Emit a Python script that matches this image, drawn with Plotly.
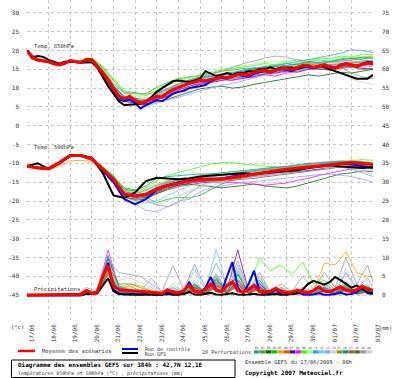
import plotly.graph_objects as go

# ---------------- time axes ----------------
DATES = ["17/06", "18/06", "19/06", "20/06", "21/06", "22/06", "23/06", "24/06", "25/06",
         "26/06", "27/06", "28/06", "29/06", "30/06", "01/07", "02/07", "03/07"]
HOURS_6 = list(range(0, 385, 6))      # 65 steps
HOURS_12 = list(range(0, 385, 12))    # 33 steps
HOURS_P = [0] + list(range(6, 384, 12)) + [384]   # 34 steps (precip perturbations)

LEFT_TICKS = [30, 25, 20, 15, 10, 5, 0, -5, -10, -15, -20, -25, -30, -35, -40, -45]
RIGHT_TICKS = [75, 70, 65, 60, 55, 50, 45, 40, 35, 30, 25, 20, 15, 10, 5, 0]
PRECIP_BASE = -45  # 0 mm drawn at -45 on the left scale

# ---------------- 850 hPa (6h) ----------------
T850_MEAN = [20.0, 18.0, 17.5, 17.3, 17.0, 16.5, 16.2, 16.6, 17.3, 17.0, 16.9, 17.6,
             17.5, 15.8, 14.0, 12.2, 10.0, 7.8, 7.2, 7.8, 6.8, 6.0, 6.5, 7.2,
             7.8, 7.6, 8.8, 9.6, 10.2, 10.6, 11.3, 11.6, 12.1, 11.9, 12.3, 12.8,
             13.0, 12.7, 13.2, 13.6, 13.7, 13.5, 14.2, 14.6, 14.7, 14.3, 14.8, 15.2,
             15.2, 14.9, 15.5, 16.0, 16.0, 15.5, 15.8, 16.2, 15.6, 15.3, 16.0, 16.4,
             16.2, 15.8, 16.3, 16.7, 16.5]
T850_CTRL = [20.0, 18.0, 17.4, 17.2, 17.0, 16.4, 16.2, 16.6, 17.2, 17.0, 16.8, 17.5,
             17.6, 16.0, 14.2, 12.0, 9.5, 7.0, 6.5, 7.0, 6.0, 4.6, 5.5, 6.2,
             6.8, 6.5, 7.5, 8.5, 9.0, 9.3, 10.0, 10.2, 10.5, 10.8, 11.8, 12.5,
             12.8, 12.5, 13.0, 13.5, 13.2, 13.0, 13.8, 14.2, 14.5, 14.2, 14.6, 15.0,
             14.8, 14.5, 15.2, 15.8, 15.5, 15.2, 15.8, 16.0, 15.8, 15.5, 16.2, 16.6,
             16.2, 15.9, 16.5, 17.0, 16.8]
T850_GFS = [20.0, 18.2, 18.5, 18.3, 17.5, 17.0, 16.5, 17.0, 17.0, 16.8, 16.8, 17.0,
            16.8, 15.5, 13.0, 10.5, 8.5, 6.5, 5.5, 5.6, 5.6, 5.8, 6.2, 7.5,
            9.0, 10.0, 11.0, 11.8, 12.0, 11.8, 11.6, 12.0, 12.5, 14.5, 13.8, 13.2,
            13.5, 14.0, 13.5, 14.0, 14.0, 14.5, 14.5, 15.0, 15.0, 15.5, 15.0, 15.5,
            15.5, 15.5, 15.0, 15.5, 16.0, 15.5, 16.0, 15.5, 15.0, 14.5, 14.0, 13.5,
            13.0, 12.5, 12.5, 12.5, 13.5]

# perturbations 850 hPa (12h)
T850_P01 = [20, 17.8, 17.2, 16.4, 17.5, 17.0, 17.8, 14.8, 10.8, 7.8, 7.2, 6.8, 8.2, 9.5, 11.0, 12.2, 13.0, 13.2, 13.8, 14.0, 14.5, 15.0, 15.6, 15.5, 16.0, 16.2, 16.8, 16.5, 16.8, 17.2, 17.6, 17.8, 18.0]
T850_P02 = [20, 17.4, 16.9, 16.0, 17.2, 16.8, 17.6, 14.2, 9.8, 7.0, 6.5, 6.0, 7.2, 8.5, 10.0, 11.5, 12.3, 12.0, 12.8, 13.5, 14.0, 14.2, 14.5, 15.2, 15.0, 15.4, 16.2, 15.6, 15.2, 16.0, 16.5, 16.0, 16.2]
T850_P03 = [20, 17.3, 16.8, 15.9, 17.0, 16.5, 17.0, 13.2, 8.8, 6.5, 6.0, 5.5, 6.5, 7.0, 8.0, 9.0, 9.8, 10.2, 10.5, 10.0, 10.3, 11.0, 11.5, 12.0, 12.5, 13.0, 13.5, 13.2, 13.8, 14.2, 14.0, 14.5, 15.0]
T850_P04 = [20, 17.6, 17.1, 16.3, 17.4, 17.1, 17.9, 15.5, 12.0, 8.8, 8.5, 8.5, 10.2, 11.5, 12.5, 13.0, 13.2, 13.8, 14.5, 14.8, 15.2, 15.0, 15.8, 16.0, 16.5, 16.2, 17.0, 17.5, 17.0, 17.8, 18.0, 17.5, 17.2]
T850_P05 = [20, 17.5, 17.0, 16.2, 17.3, 17.0, 17.5, 14.0, 10.2, 7.5, 7.0, 6.8, 7.5, 8.8, 10.5, 11.2, 12.0, 12.5, 13.2, 13.0, 13.5, 14.5, 15.0, 14.5, 15.5, 16.0, 16.5, 16.2, 16.8, 17.0, 17.5, 18.2, 18.5]
T850_P06 = [20, 17.6, 17.0, 16.1, 17.2, 16.8, 17.4, 13.8, 9.5, 7.0, 6.8, 6.2, 7.8, 8.5, 9.8, 11.0, 11.8, 12.2, 12.5, 13.0, 13.8, 14.0, 14.2, 14.8, 15.2, 15.0, 15.8, 15.5, 15.0, 15.5, 16.0, 16.5, 16.0]
T850_P07 = [20, 17.2, 16.8, 16.0, 17.1, 16.6, 17.2, 13.5, 9.0, 6.5, 6.2, 5.8, 7.0, 7.8, 9.0, 10.0, 11.0, 11.5, 12.0, 12.2, 12.5, 13.0, 13.8, 14.0, 14.5, 14.2, 15.0, 15.2, 14.8, 15.5, 15.8, 15.2, 15.0]
T850_P08 = [20, 17.5, 17.0, 16.3, 17.3, 16.9, 17.6, 14.5, 10.5, 7.2, 6.5, 6.0, 7.0, 8.0, 9.5, 10.5, 11.2, 11.8, 12.5, 12.0, 12.8, 13.0, 13.5, 13.2, 14.0, 14.5, 15.0, 15.5, 16.0, 16.5, 17.0, 16.8, 17.0]
T850_P09 = [20, 17.7, 17.2, 16.5, 17.6, 17.2, 18.0, 15.8, 12.5, 9.2, 8.8, 8.0, 9.5, 10.8, 12.0, 12.8, 13.5, 14.0, 14.8, 15.2, 15.5, 16.0, 16.5, 16.2, 17.0, 17.5, 17.2, 18.0, 17.8, 18.5, 18.2, 19.0, 18.8]
T850_P10 = [20, 17.6, 17.1, 16.4, 17.5, 17.1, 17.8, 15.2, 11.5, 8.5, 8.0, 7.5, 9.8, 11.2, 12.8, 12.5, 13.8, 14.2, 15.0, 15.5, 16.0, 16.5, 16.8, 17.2, 17.0, 16.8, 17.5, 17.2, 17.8, 18.0, 18.5, 18.2, 18.0]
T850_P11 = [20, 17.5, 17.0, 16.2, 17.4, 17.0, 17.7, 14.6, 10.5, 7.5, 7.0, 6.5, 7.8, 9.0, 10.5, 11.5, 12.5, 13.0, 13.5, 14.0, 14.8, 15.5, 15.2, 16.0, 16.5, 17.0, 17.5, 18.0, 18.5, 19.2, 20.2, 20.0, 19.5]
T850_P12 = [20, 17.4, 16.9, 16.1, 17.2, 16.8, 17.5, 14.0, 9.8, 7.0, 6.6, 6.4, 7.5, 8.8, 10.2, 11.0, 11.5, 12.0, 12.8, 13.2, 13.5, 14.0, 14.8, 15.0, 15.5, 16.0, 16.2, 16.8, 17.0, 17.5, 17.0, 17.2, 17.5]
T850_P13 = [20, 17.3, 16.8, 16.0, 17.1, 16.7, 17.3, 13.6, 9.2, 6.8, 6.0, 5.2, 6.0, 6.8, 7.5, 8.2, 9.2, 9.8, 10.8, 11.2, 12.0, 12.8, 13.5, 13.8, 14.2, 14.8, 15.2, 15.0, 15.5, 15.8, 16.0, 15.5, 15.8]
T850_P14 = [20, 17.4, 16.9, 16.1, 17.2, 16.8, 17.4, 13.9, 9.5, 7.0, 6.4, 6.0, 6.8, 7.5, 8.5, 9.5, 10.5, 11.0, 11.8, 12.5, 13.2, 13.5, 14.0, 14.5, 15.0, 15.2, 15.8, 16.0, 16.2, 16.8, 17.0, 16.5, 16.0]
T850_P15 = [20, 17.5, 17.0, 16.2, 17.3, 16.9, 17.6, 14.2, 10.0, 7.3, 6.9, 6.6, 8.0, 9.0, 10.4, 11.5, 12.2, 12.5, 13.0, 13.4, 13.8, 14.5, 15.0, 15.0, 15.6, 15.8, 16.5, 16.0, 16.2, 16.5, 16.8, 17.0, 17.2]
T850_P16 = [20, 17.6, 17.1, 16.3, 17.4, 17.0, 17.7, 14.5, 10.6, 7.6, 7.2, 7.0, 8.5, 9.8, 11.2, 12.0, 12.8, 13.0, 13.8, 14.2, 14.5, 15.2, 15.5, 15.8, 16.0, 16.5, 17.0, 16.8, 17.2, 17.5, 17.8, 18.2, 18.0]
T850_P17 = [20, 17.4, 16.9, 16.2, 17.3, 16.9, 17.5, 14.1, 9.9, 7.1, 6.8, 6.5, 7.6, 8.7, 10.0, 11.2, 12.0, 12.4, 13.0, 13.2, 13.6, 14.2, 14.6, 14.6, 15.0, 15.4, 15.8, 15.6, 15.4, 15.8, 16.0, 16.2, 16.4]
T850_P18 = [20, 17.3, 16.8, 16.0, 17.1, 16.7, 17.3, 13.6, 9.4, 6.9, 6.5, 6.2, 7.2, 8.2, 9.5, 10.5, 11.4, 11.8, 12.2, 12.6, 13.0, 13.5, 14.0, 14.2, 14.6, 15.0, 15.4, 15.0, 14.8, 15.2, 15.5, 15.0, 15.2]
T850_P19 = [20, 17.6, 17.1, 16.4, 17.5, 17.1, 17.8, 15.0, 11.2, 8.6, 8.8, 8.4, 9.0, 9.8, 11.0, 12.0, 12.8, 13.5, 14.5, 15.5, 16.5, 17.2, 18.0, 18.5, 18.2, 17.5, 17.0, 16.5, 16.0, 15.5, 14.0, 13.0, 12.5]
T850_P20 = [20, 17.5, 17.0, 16.2, 17.3, 16.8, 17.4, 14.0, 10.0, 7.4, 7.0, 6.8, 8.0, 9.0, 10.5, 11.5, 12.0, 12.8, 13.2, 13.8, 14.0, 14.5, 15.0, 15.5, 15.8, 16.0, 16.2, 15.5, 15.0, 14.0, 12.5, 11.5, 11.0]

# ---------------- 500 hPa (12h) ----------------
T500_MEAN = [-10.7, -11.2, -11.4, -9.8, -7.9, -7.9, -8.8, -11.5, -14.2, -18.2, -18.6, -18.2, -16.8, -15.8, -15.1, -14.6, -14.2, -14.3, -14.2, -13.8, -13.3, -13.0, -12.5, -12.0, -11.6, -11.3, -11.1, -10.7, -10.3, -10.0, -9.8, -10.0, -10.3]
T500_CTRL = [-10.7, -11.2, -11.4, -9.8, -7.8, -7.8, -8.8, -11.8, -15.0, -19.5, -20.8, -19.5, -17.0, -15.8, -15.0, -14.5, -14.0, -14.2, -14.0, -13.5, -13.0, -12.8, -12.5, -12.0, -11.8, -11.5, -11.0, -10.6, -10.2, -10.0, -10.2, -10.8, -11.2]
T500_GFS = [-10.7, -10.0, -11.5, -10.0, -8.0, -8.0, -8.5, -12.5, -18.5, -19.2, -17.7, -14.7, -13.8, -14.0, -14.2, -14.0, -13.5, -13.2, -13.0, -12.8, -12.6, -12.8, -12.5, -12.2, -12.0, -11.8, -11.2, -10.8, -10.5, -10.8, -11.0, -11.2, -11.0]

T500_P01 = [-10.7, -11.0, -11.2, -9.6, -7.6, -7.8, -8.6, -11.2, -13.8, -17.5, -18.0, -17.2, -15.8, -14.8, -14.2, -13.8, -13.5, -13.6, -13.2, -12.8, -12.5, -12.2, -11.8, -11.5, -11.2, -11.0, -10.8, -10.5, -10.0, -9.8, -9.5, -9.8, -10.0]
T500_P02 = [-10.8, -11.2, -11.5, -10.0, -8.0, -8.0, -9.0, -11.8, -14.8, -18.8, -19.5, -18.5, -16.5, -15.2, -14.5, -14.2, -14.0, -14.2, -14.5, -14.0, -13.5, -13.2, -13.0, -12.5, -12.0, -11.5, -11.2, -11.0, -10.8, -10.5, -10.2, -10.5, -10.8]
T500_P03 = [-10.7, -11.3, -11.6, -10.2, -8.2, -8.1, -9.2, -12.2, -15.2, -19.0, -19.8, -19.5, -18.0, -16.8, -15.8, -15.5, -15.8, -16.0, -16.5, -16.2, -15.8, -15.5, -16.0, -16.2, -16.5, -16.0, -15.2, -14.5, -13.5, -12.8, -12.5, -12.0, -12.2]
T500_P04 = [-10.6, -11.1, -11.3, -9.7, -7.8, -7.8, -8.7, -11.0, -13.5, -16.5, -17.0, -19.0, -20.5, -19.5, -19.0, -19.2, -18.5, -17.0, -15.5, -14.5, -13.8, -13.0, -12.5, -12.2, -11.8, -11.5, -11.0, -10.8, -10.5, -10.0, -9.8, -10.0, -10.2]
T500_P05 = [-10.8, -11.4, -11.8, -10.8, -9.3, -9.2, -9.5, -11.5, -13.8, -17.0, -17.8, -17.0, -15.5, -14.5, -14.0, -13.8, -13.5, -13.2, -13.0, -12.8, -12.2, -12.0, -11.8, -11.2, -11.0, -10.8, -10.5, -10.2, -10.0, -9.8, -9.6, -9.5, -9.8]
T500_P06 = [-10.7, -11.2, -11.4, -9.9, -7.9, -8.0, -8.9, -11.6, -14.5, -18.5, -19.0, -18.8, -17.5, -16.2, -15.4, -14.8, -14.5, -14.4, -14.0, -13.5, -13.2, -13.0, -12.5, -12.0, -11.8, -11.5, -11.0, -10.8, -10.5, -10.2, -10.0, -10.2, -10.5]
T500_P07 = [-10.7, -11.3, -11.5, -10.0, -8.1, -8.0, -9.0, -11.8, -14.6, -18.6, -19.2, -19.0, -17.8, -16.5, -15.8, -15.2, -14.8, -14.8, -14.5, -14.2, -13.8, -13.5, -13.2, -12.8, -12.5, -12.2, -11.8, -11.5, -11.0, -10.8, -10.6, -10.8, -11.0]
T500_P08 = [-10.7, -11.2, -11.4, -9.8, -7.9, -7.9, -8.8, -11.4, -14.0, -17.8, -18.5, -18.2, -17.0, -16.0, -15.5, -15.0, -14.8, -15.0, -15.2, -15.0, -15.2, -15.5, -15.8, -15.5, -15.2, -14.5, -14.0, -13.2, -12.5, -12.0, -11.5, -11.2, -11.0]
T500_P09 = [-10.6, -11.0, -11.2, -9.5, -7.6, -7.6, -8.5, -10.8, -13.2, -16.8, -17.5, -16.5, -14.5, -13.2, -12.5, -11.8, -11.0, -10.2, -9.8, -9.8, -10.2, -10.5, -10.8, -11.0, -11.2, -10.8, -10.5, -10.2, -9.8, -9.5, -9.2, -9.0, -9.2]
T500_P10 = [-10.6, -11.1, -11.3, -9.6, -7.7, -7.7, -8.6, -11.0, -13.6, -17.2, -17.8, -17.0, -15.5, -14.8, -14.2, -13.5, -13.0, -12.8, -12.5, -12.2, -12.0, -11.8, -11.5, -11.2, -11.0, -10.5, -10.2, -10.0, -9.5, -9.2, -9.0, -9.4, -9.8]
T500_P11 = [-10.7, -11.2, -11.4, -9.7, -7.8, -7.8, -8.8, -11.4, -14.2, -18.0, -18.6, -18.0, -16.2, -15.0, -14.4, -14.0, -13.6, -13.4, -13.0, -12.6, -12.2, -11.8, -11.5, -11.2, -10.8, -10.5, -10.2, -10.0, -9.8, -9.5, -9.4, -9.6, -10.0]
T500_P12 = [-10.8, -11.3, -11.5, -9.9, -8.0, -8.0, -9.0, -11.7, -14.6, -18.8, -19.8, -20.5, -20.0, -18.5, -17.2, -16.0, -15.2, -14.8, -14.5, -14.0, -13.6, -13.2, -12.8, -12.4, -12.0, -11.6, -11.2, -11.0, -10.6, -10.2, -10.0, -10.4, -10.8]
T500_P13 = [-10.8, -11.4, -11.6, -10.1, -8.1, -8.1, -9.1, -12.0, -15.0, -19.5, -20.8, -22.5, -22.8, -21.5, -20.0, -19.5, -17.5, -16.5, -16.0, -15.5, -15.0, -14.8, -14.5, -14.2, -13.8, -13.5, -13.2, -13.0, -12.8, -13.2, -13.5, -14.2, -15.0]
T500_P14 = [-10.7, -11.2, -11.4, -9.8, -7.9, -7.9, -8.9, -11.6, -14.4, -18.4, -19.5, -20.5, -21.0, -20.0, -18.5, -17.2, -16.5, -15.8, -15.0, -14.5, -14.0, -13.6, -13.2, -12.8, -12.4, -12.0, -11.6, -11.2, -11.0, -10.8, -11.0, -11.5, -12.0]
T500_P15 = [-10.7, -11.2, -11.4, -9.8, -7.9, -7.9, -8.8, -11.5, -14.2, -18.2, -18.8, -18.5, -17.2, -16.0, -15.2, -14.6, -14.2, -14.0, -13.8, -13.5, -13.0, -12.6, -12.2, -11.8, -11.5, -11.2, -10.9, -10.6, -10.3, -10.0, -9.8, -10.0, -10.2]
T500_P16 = [-10.6, -11.1, -11.3, -9.6, -7.7, -7.7, -8.6, -11.0, -13.5, -17.0, -17.2, -16.0, -14.0, -13.5, -13.2, -13.0, -12.8, -12.8, -12.5, -12.0, -11.8, -11.5, -11.2, -11.0, -10.8, -10.4, -10.0, -9.8, -9.6, -9.4, -9.5, -9.8, -10.0]
T500_P17 = [-10.7, -11.2, -11.4, -9.8, -7.9, -7.9, -8.8, -11.5, -14.3, -18.3, -18.9, -18.6, -17.4, -16.2, -15.5, -15.0, -14.6, -14.4, -14.2, -13.8, -13.4, -13.0, -12.6, -12.2, -11.8, -11.5, -11.2, -10.8, -10.5, -10.2, -10.0, -10.2, -10.4]
T500_P18 = [-10.8, -11.3, -11.5, -10.0, -8.0, -8.0, -9.0, -11.8, -14.8, -19.0, -19.5, -19.2, -18.0, -17.0, -16.2, -15.6, -15.2, -15.0, -14.8, -14.5, -14.2, -14.0, -13.6, -13.2, -12.8, -12.5, -12.0, -11.6, -11.2, -11.0, -10.8, -11.0, -11.2]
T500_P19 = [-10.7, -11.2, -11.4, -9.8, -7.9, -7.9, -8.8, -11.2, -14.0, -17.5, -18.2, -19.5, -21.0, -21.5, -20.5, -18.0, -16.0, -14.8, -14.0, -13.2, -12.5, -12.0, -11.6, -11.5, -11.0, -10.5, -10.2, -10.0, -10.5, -11.0, -11.5, -12.5, -13.5]
T500_P20 = [-10.7, -11.2, -11.4, -9.8, -7.9, -7.9, -8.8, -11.3, -14.0, -17.8, -18.5, -19.8, -20.5, -19.8, -18.8, -17.5, -16.2, -15.2, -14.8, -14.2, -13.5, -12.8, -12.2, -11.8, -11.4, -11.0, -10.6, -10.4, -10.2, -10.5, -11.2, -12.0, -12.8]

# ---------------- precipitation mm (6h) ----------------
PR_MEAN = [0, 0, 0, 0, 0, 0, 0, 0, 0, 0, 0.2, 1.2,
           0.4, 0.8, 5.0, 7.9, 2.4, 1.5, 1.3, 1.2, 1.1, 1.0, 0.9, 0.7,
           0.5, 0.5, 1.4, 0.8, 0.6, 1.2, 2.6, 1.0, 0.7, 1.5, 3.0, 1.3,
           0.9, 2.5, 3.5, 1.2, 0.8, 1.5, 2.6, 1.0, 0.8, 1.0, 1.8, 1.0,
           0.7, 0.8, 1.3, 0.8, 0.7, 1.2, 2.2, 1.1, 0.9, 1.6, 2.2, 1.3,
           1.0, 1.4, 2.4, 1.6, 1.3]
PR_CTRL = [0, 0, 0, 0, 0, 0, 0, 0, 0, 0, 0, 0.8,
           0.3, 1.0, 5.0, 8.5, 1.5, 0.5, 0.3, 0.2, 0.2, 0.1, 0.3, 0.2,
           0.1, 0.2, 0.8, 0.3, 0.2, 1.0, 3.5, 1.0, 0.5, 2.0, 4.8, 1.5,
           0.8, 5.0, 8.8, 2.0, 0.5, 3.0, 6.5, 1.0, 0.2, 0.5, 1.5, 0.3,
           0.2, 0.3, 0.8, 0.2, 0.1, 0.2, 0.5, 0.1, 0.1, 0.3, 0.6, 0.2,
           0.3, 0.8, 1.8, 0.5, 0.3]
PR_GFS = [0, 0, 0, 0, 0, 0, 0, 0, 0, 0, 0, 0.3,
          0.3, 0.5, 2.5, 4.5, 1.0, 0.3, 0.2, 0.2, 0.1, 0.1, 0.2, 0.1,
          0.1, 0.1, 0.3, 0.1, 0.1, 0.3, 0.8, 0.2, 0.1, 0.3, 0.6, 0.2,
          0.1, 0.3, 0.5, 0.2, 0.1, 0.2, 0.4, 0.1, 0.1, 0.2, 0.3, 0.1,
          0.2, 0.3, 0.5, 1.5, 3.0, 3.8, 3.2, 2.8, 3.5, 4.8, 4.0, 3.0,
          2.0, 2.6, 1.5, 0.8, 0.5]

# perturbations precip (06h / 18h steps)
PR_P01 = [0, 0, 0, 0, 0, 0, 1.0, 0.5, 8.0, 2.0, 1.0, 0.5, 0.8, 0.3, 1.5, 0.5, 2.5, 0.8, 3.5, 1.0, 4.0, 0.8, 3.0, 0.5, 1.5, 0.3, 1.0, 0.5, 2.0, 0.8, 2.5, 0.5, 2.0, 1.0]
PR_P02 = [0, 0, 0, 0, 0, 0, 0.5, 0.8, 9.0, 1.5, 0.5, 0.3, 0.5, 0.2, 1.0, 0.3, 2.0, 1.0, 4.5, 1.2, 5.5, 0.5, 2.0, 0.3, 1.0, 0.2, 0.8, 0.3, 1.5, 0.5, 2.0, 0.8, 1.5, 0.8]
PR_P03 = [0, 0, 0, 0, 0, 0, 0.8, 0.3, 6.5, 1.0, 0.5, 0.2, 0.3, 0.1, 0.5, 0.2, 1.5, 0.5, 2.5, 0.8, 3.0, 0.5, 2.2, 0.3, 0.8, 0.2, 0.5, 0.3, 1.0, 0.4, 1.5, 0.3, 1.0, 0.5]
PR_P04 = [0, 0, 0, 0, 0, 0, 1.5, 0.5, 10.0, 2.5, 1.2, 0.8, 0.5, 0.3, 1.0, 0.5, 3.0, 1.0, 5.0, 1.5, 6.0, 1.0, 4.0, 0.5, 2.0, 0.5, 1.5, 0.5, 3.0, 1.0, 3.5, 0.8, 2.5, 1.2]
PR_P05 = [0, 0, 0, 0, 0, 0, 0.6, 0.4, 8.5, 2.0, 3.0, 2.5, 1.0, 0.3, 1.2, 0.4, 2.0, 0.6, 3.0, 0.8, 2.5, 0.5, 1.5, 0.3, 1.0, 0.5, 2.0, 1.0, 8.5, 8.0, 11.5, 6.0, 5.0, 4.8]
PR_P06 = [0, 0, 0, 0, 0, 0, 0.4, 0.6, 7.0, 1.5, 2.5, 1.0, 0.5, 0.2, 0.8, 0.3, 1.8, 0.5, 2.8, 0.6, 3.5, 0.4, 2.0, 0.2, 0.8, 0.2, 0.6, 0.3, 1.2, 0.5, 1.8, 0.4, 1.2, 0.6]
PR_P07 = [0, 0, 0, 0, 0, 0, 0.8, 0.5, 9.5, 1.8, 0.8, 0.4, 0.6, 0.2, 1.0, 0.3, 2.2, 0.6, 4.0, 1.5, 12.0, 1.0, 3.0, 0.3, 1.2, 0.3, 0.8, 0.3, 1.5, 0.5, 2.0, 0.6, 1.5, 0.8]
PR_P08 = [0, 0, 0, 0, 0, 0, 1.2, 0.8, 12.0, 2.0, 1.0, 0.5, 0.5, 0.2, 0.8, 0.3, 2.0, 0.6, 3.2, 0.8, 3.8, 0.6, 2.5, 0.3, 1.0, 0.3, 0.8, 0.4, 1.8, 0.6, 2.8, 0.5, 1.8, 1.0]
PR_P09 = [0, 0, 0, 0, 0, 0, 1.0, 0.6, 9.0, 2.2, 1.0, 0.5, 0.8, 0.3, 1.2, 0.4, 2.5, 0.8, 4.0, 1.2, 5.0, 2.0, 10.0, 6.5, 8.0, 5.5, 8.8, 3.0, 4.0, 1.5, 2.5, 0.8, 2.0, 1.2]
PR_P10 = [0, 0, 0, 0, 0, 0, 0.7, 0.5, 7.5, 3.0, 2.0, 2.5, 1.5, 0.5, 2.5, 0.8, 3.5, 1.0, 5.0, 1.5, 6.0, 1.2, 5.0, 0.8, 2.5, 0.6, 1.5, 0.5, 2.0, 0.7, 2.5, 0.6, 2.0, 1.0]
PR_P11 = [0, 0, 0, 0, 0, 0, 0.9, 0.6, 8.8, 1.8, 0.8, 0.3, 0.5, 0.2, 1.0, 0.4, 3.0, 0.8, 5.5, 1.2, 6.5, 1.0, 4.0, 0.5, 1.5, 0.4, 1.0, 0.4, 1.8, 0.6, 2.2, 0.5, 1.6, 0.8]
PR_P12 = [0, 0, 0, 0, 0, 0, 0.6, 0.4, 7.8, 1.5, 1.0, 0.8, 1.0, 0.3, 2.0, 0.6, 7.0, 1.5, 12.3, 2.0, 7.0, 1.0, 3.5, 0.4, 1.2, 0.3, 0.8, 0.3, 1.5, 0.6, 6.0, 1.5, 3.0, 1.5]
PR_P13 = [0, 0, 0, 0, 0, 0, 0.8, 0.5, 9.2, 2.5, 1.5, 1.0, 4.5, 0.8, 2.0, 0.6, 3.0, 0.8, 5.0, 1.2, 8.0, 1.5, 5.0, 0.6, 2.0, 0.5, 1.5, 0.6, 3.0, 1.0, 6.0, 2.0, 4.5, 2.5]
PR_P14 = [0, 0, 0, 0, 0, 0, 0.5, 0.4, 8.0, 2.0, 1.2, 0.6, 2.5, 0.4, 1.5, 0.5, 3.5, 1.0, 6.0, 1.5, 7.0, 1.0, 4.5, 0.5, 1.8, 0.4, 1.2, 0.5, 2.5, 0.8, 4.0, 1.2, 3.0, 1.5]
PR_P15 = [0, 0, 0, 0, 0, 0, 0.6, 0.4, 7.5, 3.0, 3.0, 2.0, 1.0, 0.3, 1.0, 0.4, 2.2, 0.6, 3.5, 1.0, 4.5, 0.8, 3.0, 0.4, 1.2, 0.3, 1.0, 0.4, 2.0, 0.6, 2.5, 0.8, 2.0, 1.0]
PR_P16 = [0, 0, 0, 0, 0, 0, 1.0, 0.7, 10.5, 2.2, 1.0, 0.5, 0.6, 0.2, 1.2, 0.4, 2.8, 0.7, 4.2, 1.0, 5.5, 0.8, 3.2, 0.5, 1.5, 0.4, 1.2, 0.5, 2.2, 0.7, 3.0, 0.6, 2.2, 1.0]
PR_P17 = [0, 0, 0, 0, 0, 0, 0.5, 0.3, 6.0, 1.2, 0.8, 0.4, 0.5, 0.2, 0.8, 0.3, 1.5, 0.5, 2.5, 0.6, 3.0, 0.5, 2.0, 0.3, 0.8, 0.2, 0.6, 0.3, 1.2, 0.4, 1.5, 0.4, 1.0, 0.6]
PR_P18 = [0, 0, 0, 0, 0, 0, 0.4, 0.3, 5.5, 1.0, 0.6, 0.3, 0.4, 0.1, 0.6, 0.2, 1.2, 0.4, 2.0, 0.5, 2.5, 0.4, 1.8, 0.2, 0.6, 0.2, 0.5, 0.2, 1.0, 0.3, 1.2, 0.3, 0.8, 0.5]
PR_P19 = [0, 0, 0, 0, 0, 0, 2.0, 1.0, 9.0, 6.0, 5.5, 5.0, 3.0, 1.0, 7.9, 1.5, 8.2, 2.0, 8.5, 2.5, 9.0, 1.5, 6.0, 1.0, 3.0, 1.0, 5.0, 1.5, 6.0, 2.0, 10.0, 3.0, 8.0, 3.5]
PR_P20 = [0, 0, 0, 0, 0, 0, 1.2, 0.6, 8.0, 4.0, 4.5, 3.5, 2.0, 0.5, 3.0, 0.8, 4.0, 1.0, 5.5, 1.5, 6.5, 1.0, 4.5, 0.6, 2.0, 0.5, 2.0, 0.6, 3.5, 1.0, 7.0, 1.5, 4.0, 2.0]

PERT_COLORS = ["#339999", "#669933", "#006600", "#00cc00", "#ff9900", "#cc6600", "#660099",
               "#ff00ff", "#33ff00", "#99ff66", "#3399ff", "#66ccff", "#9999ff", "#ccccff",
               "#999900", "#009999", "#996633", "#666633", "#999999", "#cccccc"]

T850_PERTS = [T850_P01, T850_P02, T850_P03, T850_P04, T850_P05, T850_P06, T850_P07, T850_P08, T850_P09, T850_P10,
              T850_P11, T850_P12, T850_P13, T850_P14, T850_P15, T850_P16, T850_P17, T850_P18, T850_P19, T850_P20]
T500_PERTS = [T500_P01, T500_P02, T500_P03, T500_P04, T500_P05, T500_P06, T500_P07, T500_P08, T500_P09, T500_P10,
              T500_P11, T500_P12, T500_P13, T500_P14, T500_P15, T500_P16, T500_P17, T500_P18, T500_P19, T500_P20]
PR_PERTS = [PR_P01, PR_P02, PR_P03, PR_P04, PR_P05, PR_P06, PR_P07, PR_P08, PR_P09, PR_P10,
            PR_P11, PR_P12, PR_P13, PR_P14, PR_P15, PR_P16, PR_P17, PR_P18, PR_P19, PR_P20]

# ---------------- figure ----------------
W, H = 400, 378
ML, MR, MT, MB = 27, 27, 0, 58
PW, PH = W - ML - MR, H - MT - MB
Y_RANGE = [-51.6, 33.4]
Y2_RANGE = [Y_RANGE[0] + 45, Y_RANGE[1] + 45]


def px(x):
    return (x - ML) / PW


def py(y):
    return (MT + PH - y) / PH


def pr_shift(vals):
    return [PRECIP_BASE + v for v in vals]


fig = go.Figure()

for i in range(20):
    c = PERT_COLORS[i]
    for xs, ys in ((HOURS_12, T850_PERTS[i]), (HOURS_12, T500_PERTS[i]), (HOURS_P, pr_shift(PR_PERTS[i]))):
        fig.add_trace(go.Scatter(x=xs, y=ys, mode="lines", line=dict(color=c, width=0.9),
                                 opacity=0.85, hoverinfo="skip"))

for xs, ys in ((HOURS_6, T850_CTRL), (HOURS_12, T500_CTRL), (HOURS_6, pr_shift(PR_CTRL))):
    fig.add_trace(go.Scatter(x=xs, y=ys, mode="lines", line=dict(color="#0000ff", width=2)))
for xs, ys in ((HOURS_6, T850_GFS), (HOURS_12, T500_GFS), (HOURS_6, pr_shift(PR_GFS))):
    fig.add_trace(go.Scatter(x=xs, y=ys, mode="lines", line=dict(color="#000000", width=2)))
for xs, ys in ((HOURS_6, T850_MEAN), (HOURS_12, T500_MEAN), (HOURS_6, pr_shift(PR_MEAN))):
    fig.add_trace(go.Scatter(x=xs, y=ys, mode="lines", line=dict(color="#ff0000", width=3.2)))

fig.add_trace(go.Scatter(x=[], y=[], yaxis="y2", hoverinfo="skip"))

TICKFONT = dict(family="DejaVu Sans Mono", size=6, color="#333333")
fig.update_layout(
    width=W, height=H, margin=dict(l=ML, r=MR, t=MT, b=MB),
    paper_bgcolor="white", plot_bgcolor="white", showlegend=False,
    xaxis=dict(range=[0, 384], tickvals=[24 * i for i in range(len(DATES))], ticktext=DATES,
               tickangle=-90, tickfont=TICKFONT, showgrid=True, gridcolor="#c8c8c8",
               griddash="dot", gridwidth=1, zeroline=False, showline=False, ticks="",
               ticklabelstandoff=2, ticklabelshift=5),
    yaxis=dict(range=Y_RANGE, tickvals=LEFT_TICKS, ticktext=[str(v) for v in LEFT_TICKS],
               tickfont=TICKFONT, showgrid=True, gridcolor="#c8c8c8", griddash="dot",
               gridwidth=1, zeroline=False, showline=False, ticks="", ticklabelstandoff=7),
    yaxis2=dict(range=Y2_RANGE, overlaying="y", side="right", tickvals=RIGHT_TICKS,
                ticktext=[str(v) for v in RIGHT_TICKS], tickfont=TICKFONT, showgrid=False,
                zeroline=False, showline=False, ticks="", ticklabelstandoff=8),
)

MONO = "DejaVu Sans Mono"


def txt(x, y, s, size=5.5, color="#333333", bold=False, xanchor="left"):
    fig.add_annotation(xref="paper", yref="paper", x=px(x), y=py(y), text=("<b>%s</b>" % s) if bold else s,
                       showarrow=False, xanchor=xanchor, yanchor="middle",
                       font=dict(family=MONO, size=size, color=color))


txt(32, 46, "Temp. 850hPa")
txt(32, 147, "Temp. 500hPa")
txt(32, 289.5, "Précipitations")
txt(9, 327, "(°c)")
txt(377, 328, "(mm)")

# legend
fig.add_shape(type="line", xref="paper", yref="paper", x0=px(18), x1=px(35), y0=py(351), y1=py(351),
              line=dict(color="#ff0000", width=2.5))
txt(40, 351.5, "Moyenne des scénarios")
fig.add_shape(type="line", xref="paper", yref="paper", x0=px(122), x1=px(138), y0=py(349), y1=py(349),
              line=dict(color="#0000ff", width=2))
fig.add_shape(type="line", xref="paper", yref="paper", x0=px(122), x1=px(138), y0=py(353), y1=py(353),
              line=dict(color="#000000", width=2))
txt(143, 348.5, "Run de contrôle", size=5)
txt(143, 354, "Run GFS", size=5)
txt(200, 351.5, "20 Perturbations", size=5.1)
for i in range(20):
    x0 = 254 + i * 5.9
    fig.add_shape(type="rect", xref="paper", yref="paper", x0=px(x0), x1=px(x0 + 5.6),
                  y0=py(353.5), y1=py(350.3), line=dict(width=0), fillcolor=PERT_COLORS[i])
    txt(x0 + 2.8, 347.8, "%02d" % (i + 1), size=3, xanchor="center")

fig.add_shape(type="rect", xref="paper", yref="paper", x0=px(11.5), x1=px(235), y0=py(377.5), y1=py(360),
              line=dict(color="#000000", width=1), fillcolor="rgba(0,0,0,0)")
txt(15.5, 365, "Diagramme des ensembles GEFS sur 384h : 42,7N 12,1E", size=6, color="#000000", bold=True)
txt(15.5, 373.3, "Températures 850hPa et 500hPa (°C) , précipitations (mm)", size=4.9)
txt(243, 362, "Ensemble GEFS du 17/06/2009 - 00h", size=5.4)
txt(243, 372.7, "Copyright 2007 Meteociel.fr", size=6, color="#000000", bold=True)

fig.write_html("out.html", config={"displayModeBar": False},
               post_script="document.body.style.margin='0';document.body.style.overflow='hidden';")
